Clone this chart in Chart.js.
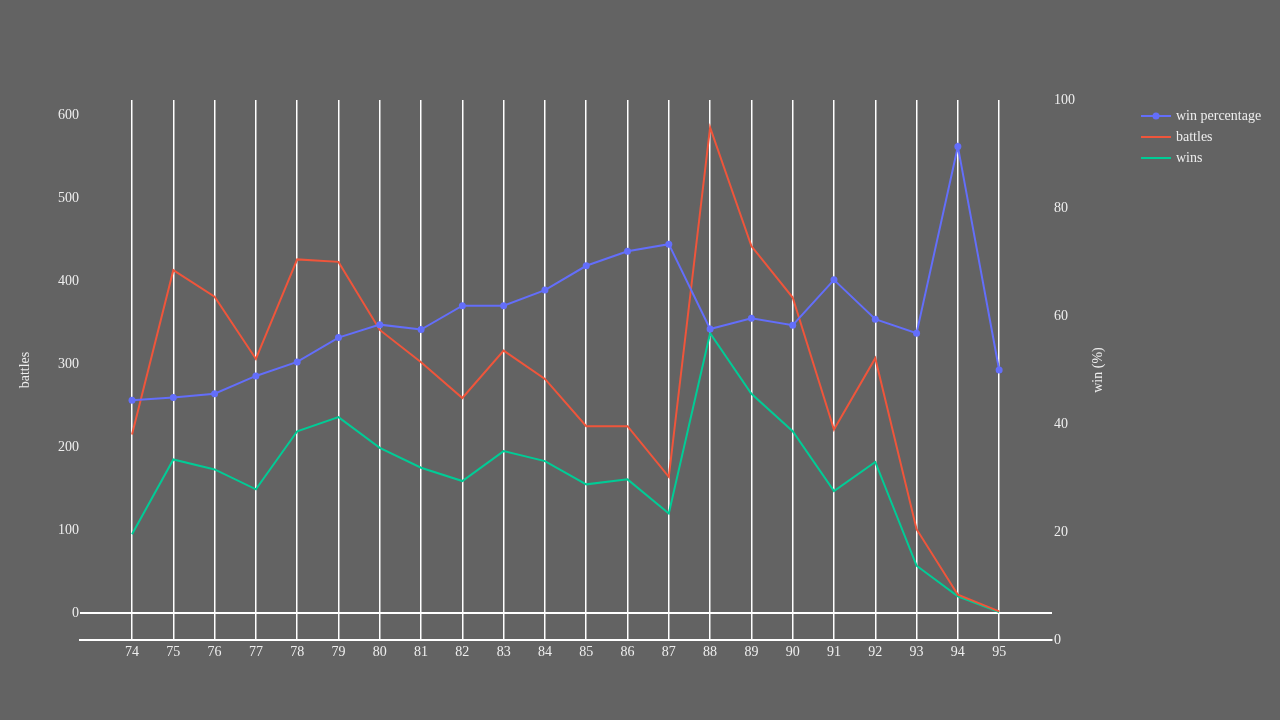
<!DOCTYPE html>
<html>
<head>
<meta charset="utf-8">
<script src="https://cdn.jsdelivr.net/npm/chart.js@4.4.0/dist/chart.umd.min.js"></script>
<style>
  body { margin: 0; background: #636363; }
  canvas { display: block; }
</style>
</head>
<body>
<canvas id="battleChart" width="1280" height="720"></canvas>
<script>
var years = [74, 75, 76, 77, 78, 79, 80, 81, 82, 83, 84, 85, 86, 87, 88, 89, 90, 91, 92, 93, 94, 95];
var battles = [215, 413, 381, 306, 426, 423, 341, 302, 259, 316, 282, 225, 225, 164, 585, 442, 380, 221, 307, 101, 22, 2];
var wins = [95, 185, 173, 149, 219, 236, 199, 175, 159, 195, 183, 155, 161, 120, 337, 264, 219, 147, 182, 57, 20, 1];
var winPct = [44.4, 44.9, 45.6, 48.9, 51.5, 56, 58.4, 57.5, 61.9, 61.9, 64.8, 69.3, 72, 73.3, 57.6, 59.6, 58.3, 66.7, 59.4, 56.8, 91.4, 50];
var battleTicks = [0, 100, 200, 300, 400, 500, 600];
var pctTicks = [0, 20, 40, 60, 80, 100];

var textColor = "#eeeeee";
var serif = "'Liberation Serif', 'Times New Roman', serif";

function points(vals) {
  return years.map(function(y, i) { return {x: y, y: vals[i]}; });
}

// legend + axis titles drawn by hand so they sit like the original
var extras = {
  id: 'extras',
  afterDraw: function(chart) {
    var ctx = chart.ctx;
    var area = chart.chartArea;
    var midY = (area.top + area.bottom) / 2;
    ctx.save();
    ctx.fillStyle = textColor;
    ctx.font = "14px " + serif;
    ctx.textAlign = "center";
    ctx.textBaseline = "middle";

    ctx.save();
    ctx.translate(25, midY);
    ctx.rotate(-Math.PI / 2);
    ctx.fillText("battles", 0, 0);
    ctx.restore();

    ctx.save();
    ctx.translate(1098, midY);
    ctx.rotate(-Math.PI / 2);
    ctx.fillText("win (%)", 0, 0);
    ctx.restore();

    ctx.textAlign = "left";
    chart.data.datasets.forEach(function(ds, i) {
      var y = 116 + i * 21;
      ctx.strokeStyle = ds.borderColor;
      ctx.lineWidth = 2;
      ctx.beginPath();
      ctx.moveTo(1141, y);
      ctx.lineTo(1171, y);
      ctx.stroke();
      if (ds.pointRadius > 0) {
        ctx.fillStyle = ds.borderColor;
        ctx.beginPath();
        ctx.arc(1156, y, ds.pointRadius, 0, Math.PI * 2);
        ctx.fill();
      }
      ctx.fillStyle = textColor;
      ctx.fillText(ds.label, 1176, y);
    });
    ctx.restore();
  }
};

var ctx = document.getElementById('battleChart');

var myChart = new Chart(ctx, {
  type: 'line',
  data: {
    datasets: [{
      label: "win percentage",
      data: points(winPct),
      yAxisID: 'y1',
      borderColor: "#636efa",
      backgroundColor: "#636efa",
      borderWidth: 2,
      pointRadius: 3.5,
      pointBorderWidth: 0,
      tension: 0
    }, {
      label: "battles",
      data: points(battles),
      yAxisID: 'y',
      borderColor: "#ef553b",
      borderWidth: 2,
      pointRadius: 0,
      tension: 0
    }, {
      label: "wins",
      data: points(wins),
      yAxisID: 'y',
      borderColor: "#00cc96",
      borderWidth: 2,
      pointRadius: 0,
      tension: 0
    }]
  },
  options: {
    responsive: false,
    animation: false,
    layout: {
      padding: { left: 0, right: 0, top: 100, bottom: 0 }
    },
    plugins: {
      legend: { display: false },
      tooltip: { enabled: false }
    },
    scales: {
      x: {
        type: 'linear',
        position: 'bottom',
        min: 72.74,
        max: 96.28,
        afterBuildTicks: function(scale) {
          scale.ticks = years.map(function(v) { return {value: v}; });
        },
        afterFit: function(scale) { scale.height = 80; },
        ticks: {
          color: textColor,
          font: { family: serif, size: 14 },
          padding: 4,
          autoSkip: false,
          maxRotation: 0,
          callback: function(v) { return String(v); }
        },
        grid: {
          color: "#ffffff",
          lineWidth: 1.5,
          drawTicks: false
        },
        border: { color: "#ffffff", width: 2 }
      },
      y: {
        type: 'linear',
        position: 'left',
        min: -32.5,
        max: 618,
        afterBuildTicks: function(scale) {
          scale.ticks = battleTicks.map(function(v) { return {value: v}; });
        },
        afterFit: function(scale) { scale.width = 80; },
        ticks: {
          color: textColor,
          font: { family: serif, size: 14 },
          padding: 1
        },
        grid: {
          color: function(c) {
            return (c.tick && c.tick.value === 0) ? "#ffffff" : "rgba(0,0,0,0)";
          },
          lineWidth: 2,
          drawTicks: false
        },
        border: { display: false }
      },
      y1: {
        type: 'linear',
        position: 'right',
        min: 0,
        max: 100,
        afterBuildTicks: function(scale) {
          scale.ticks = pctTicks.map(function(v) { return {value: v}; });
        },
        afterFit: function(scale) { scale.width = 228; },
        ticks: {
          color: textColor,
          font: { family: serif, size: 14 },
          padding: 2
        },
        grid: { display: false, drawTicks: false },
        border: { display: false }
      }
    }
  },
  plugins: [extras]
});
</script>
</body>
</html>
